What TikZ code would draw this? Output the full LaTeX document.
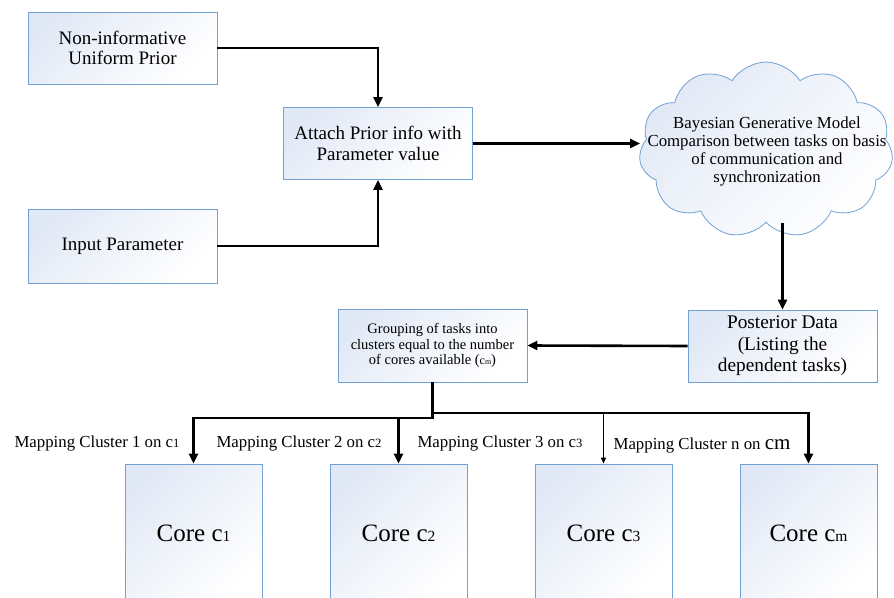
\documentclass[tikz,border=0pt]{standalone}
\usepackage{fontspec}
\setmainfont{Liberation Serif}
\usepackage{tikz}
\usetikzlibrary{positioning,shapes.symbols,arrows.meta}
\definecolor{edgeblue}{RGB}{112,160,212}
\definecolor{tintblue}{RGB}{226,233,246}
\newcommand{\idx}[2][.62]{\scalebox{#1}{#2}}

\begin{document}
\begin{tikzpicture}[x=1pt, y=-1pt, >={Triangle[length=10pt,width=9pt]},
  every node/.style={font=\fontsize{19}{20.5}\selectfont},
  box/.style={draw=edgeblue, line width=0.8pt, top color=tintblue, bottom color=white, shading angle=45, align=center, minimum width=189pt, minimum height=72pt, inner sep=0pt},
  corebox/.style={box, minimum width=137pt, minimum height=138pt, font=\fontsize{25}{28}\selectfont},
  maplabel/.style={font=\fontsize{16.8}{18}\selectfont},
  link/.style={->, line width=2.6pt}]
\clip (0,0) rectangle (894,597);

% input side
\node[box] (prior) at (122.5,48) {Non-informative\\Uniform Prior};
\node[box, minimum height=74pt] (input) at (122.5,246) {Input Parameter};
\node[box] (attach) at (378,143.5) {Attach Prior info with\\Parameter value};

% model
\node[cloud, cloud puffs=11, cloud puff arc=115, aspect=1.45, draw=edgeblue, line width=0.8pt, top color=tintblue, bottom color=white, shading angle=45, minimum width=254pt, minimum height=176pt, inner sep=0pt] (bayes) at (766,150) {};
\node[align=center, font=\fontsize{16.8}{18}\selectfont] (bayestext) at (767,151) {Bayesian Generative Model\\Comparison between tasks on basis\\of communication and\\synchronization};

\node[box, font=\fontsize{19.3}{21.5}\selectfont] (post) at (782.5,346) {Posterior Data\\(Listing the\\dependent tasks)};
\node[box, minimum height=73pt, font=\fontsize{14.5}{15.5}\selectfont] (group) at (432.5,345.5) {Grouping of tasks into\\clusters equal to the number\\of cores available ({\fontsize{12}{12}\selectfont c}\idx[.55]{m})};

% cores
\node[corebox] (core1) at (193.5,533) {Core c\idx{1}};
\node[corebox] (core2) at (398.5,533) {Core c\idx{2}};
\node[corebox] (core3) at (603.5,533) {Core c\idx{3}};
\node[corebox] (corem) at (808.5,533) {Core c\idx{m}};

\node[maplabel] (map1) at (97,443) {Mapping Cluster 1 on c\idx[.75]{1}};
\node[maplabel] (map2) at (299,443) {Mapping Cluster 2 on c\idx[.75]{2}};
\node[maplabel] (map3) at (500,443) {Mapping Cluster 3 on c\idx[.75]{3}};
\node[maplabel] (mapm) at (702,445) {Mapping Cluster n on {\fontsize{21}{21}\selectfont cm}};

\coordinate (splitl) at (432.5,418);
\coordinate (splitr) at (432.5,413);

\draw[link] (prior.east) -| (attach.north);
\draw[link] (input.east) -| (attach.south);
\draw[link] (attach.east) -- (attach.east -| bayes.west);
\draw[link] (post.north |- bayes.south) -- (post.north);
\draw[link] (post.west) -- (group.east);
\draw[link] (group.south) -- (splitl) -| (core1.north);
\draw[link] (splitl) -| (core2.north);
\draw[link] (splitr) -| (corem.north);
\draw[->, line width=1.2pt, >={Triangle[length=6pt,width=5pt]}] (core3.north |- splitr) -- (core3.north);
\end{tikzpicture}
\end{document}
